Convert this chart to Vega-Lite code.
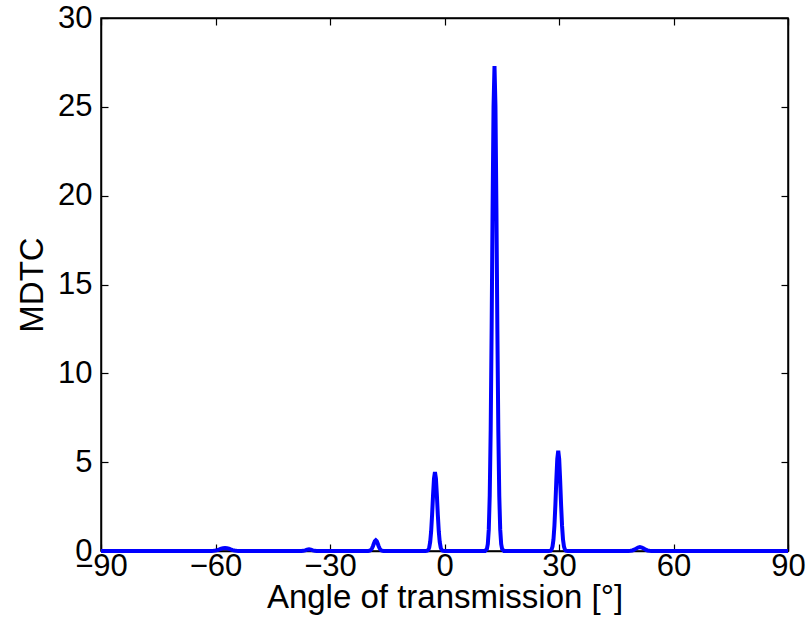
{
  "$schema": "https://vega.github.io/schema/vega-lite/v6.json",
  "width": 687,
  "height": 533,
  "autosize": "none",
  "padding": {"left": 101, "top": 18, "right": 23, "bottom": 83},
  "background": "white",
  "config": {
    "font": "Liberation Sans",
    "view": {"stroke": "black", "strokeWidth": 1.5},
    "axis": {
      "domainColor": "black",
      "domainWidth": 1.5,
      "tickColor": "black",
      "tickWidth": 1.2,
      "tickSize": -7,
      "grid": false,
      "labelFlush": false,
      "labelOverlap": false,
      "labelColor": "black",
      "labelFontSize": 31,
      "labelFont": "Liberation Sans",
      "titleColor": "black",
      "titleFontSize": 33,
      "titleFont": "Liberation Sans",
      "titleFontWeight": "normal"
    }
  },
  "data": {
    "values": [
      {"angle": -90, "mdtc": 0},
      {"angle": -62, "mdtc": 0},
      {"angle": -61.5, "mdtc": 0.0015},
      {"angle": -61, "mdtc": 0.005},
      {"angle": -60.5, "mdtc": 0.012},
      {"angle": -60, "mdtc": 0.027},
      {"angle": -59.5, "mdtc": 0.052},
      {"angle": -59, "mdtc": 0.087},
      {"angle": -58.5, "mdtc": 0.126},
      {"angle": -58, "mdtc": 0.158},
      {"angle": -57.5, "mdtc": 0.17},
      {"angle": -57, "mdtc": 0.158},
      {"angle": -56.5, "mdtc": 0.126},
      {"angle": -56, "mdtc": 0.087},
      {"angle": -55.5, "mdtc": 0.052},
      {"angle": -55, "mdtc": 0.027},
      {"angle": -54.5, "mdtc": 0.012},
      {"angle": -54, "mdtc": 0.005},
      {"angle": -53.5, "mdtc": 0.0015},
      {"angle": -53, "mdtc": 0},
      {"angle": -38, "mdtc": 0},
      {"angle": -37.5, "mdtc": 0.0017},
      {"angle": -37, "mdtc": 0.01},
      {"angle": -36.5, "mdtc": 0.036},
      {"angle": -36, "mdtc": 0.078},
      {"angle": -35.5, "mdtc": 0.1},
      {"angle": -35, "mdtc": 0.078},
      {"angle": -34.5, "mdtc": 0.036},
      {"angle": -34, "mdtc": 0.01},
      {"angle": -33.5, "mdtc": 0.0017},
      {"angle": -33, "mdtc": 0},
      {"angle": -20.5, "mdtc": 0},
      {"angle": -20, "mdtc": 0.002},
      {"angle": -19.75, "mdtc": 0.009},
      {"angle": -19.5, "mdtc": 0.026},
      {"angle": -19.25, "mdtc": 0.07},
      {"angle": -19, "mdtc": 0.15},
      {"angle": -18.75, "mdtc": 0.27},
      {"angle": -18.5, "mdtc": 0.42},
      {"angle": -18.25, "mdtc": 0.55},
      {"angle": -18, "mdtc": 0.6},
      {"angle": -17.75, "mdtc": 0.55},
      {"angle": -17.5, "mdtc": 0.42},
      {"angle": -17.25, "mdtc": 0.27},
      {"angle": -17, "mdtc": 0.15},
      {"angle": -16.75, "mdtc": 0.07},
      {"angle": -16.5, "mdtc": 0.026},
      {"angle": -16.25, "mdtc": 0.009},
      {"angle": -16, "mdtc": 0.002},
      {"angle": -15.5, "mdtc": 0},
      {"angle": -5, "mdtc": 0},
      {"angle": -4.5, "mdtc": 0.017},
      {"angle": -4.25, "mdtc": 0.063},
      {"angle": -4, "mdtc": 0.2},
      {"angle": -3.75, "mdtc": 0.51},
      {"angle": -3.5, "mdtc": 1.11},
      {"angle": -3.25, "mdtc": 2.04},
      {"angle": -3, "mdtc": 3.15},
      {"angle": -2.75, "mdtc": 4.08},
      {"angle": -2.5, "mdtc": 4.45},
      {"angle": -2.25, "mdtc": 4.08},
      {"angle": -2, "mdtc": 3.15},
      {"angle": -1.75, "mdtc": 2.04},
      {"angle": -1.5, "mdtc": 1.11},
      {"angle": -1.25, "mdtc": 0.51},
      {"angle": -1, "mdtc": 0.2},
      {"angle": -0.75, "mdtc": 0.063},
      {"angle": -0.5, "mdtc": 0.017},
      {"angle": 0, "mdtc": 0},
      {"angle": 10.6, "mdtc": 0},
      {"angle": 11.1, "mdtc": 0.11},
      {"angle": 11.35, "mdtc": 0.39},
      {"angle": 11.6, "mdtc": 1.2},
      {"angle": 11.85, "mdtc": 3.11},
      {"angle": 12.1, "mdtc": 6.8},
      {"angle": 12.35, "mdtc": 12.5},
      {"angle": 12.6, "mdtc": 19.3},
      {"angle": 12.85, "mdtc": 25.03},
      {"angle": 13.1, "mdtc": 27.3},
      {"angle": 13.35, "mdtc": 25.03},
      {"angle": 13.6, "mdtc": 19.3},
      {"angle": 13.85, "mdtc": 12.5},
      {"angle": 14.1, "mdtc": 6.8},
      {"angle": 14.35, "mdtc": 3.11},
      {"angle": 14.6, "mdtc": 1.2},
      {"angle": 14.85, "mdtc": 0.39},
      {"angle": 15.1, "mdtc": 0.11},
      {"angle": 15.6, "mdtc": 0},
      {"angle": 27.3, "mdtc": 0},
      {"angle": 27.8, "mdtc": 0.022},
      {"angle": 28.05, "mdtc": 0.08},
      {"angle": 28.3, "mdtc": 0.25},
      {"angle": 28.55, "mdtc": 0.64},
      {"angle": 28.8, "mdtc": 1.41},
      {"angle": 29.05, "mdtc": 2.59},
      {"angle": 29.3, "mdtc": 3.99},
      {"angle": 29.55, "mdtc": 5.18},
      {"angle": 29.8, "mdtc": 5.65},
      {"angle": 30.05, "mdtc": 5.18},
      {"angle": 30.3, "mdtc": 3.99},
      {"angle": 30.55, "mdtc": 2.59},
      {"angle": 30.8, "mdtc": 1.41},
      {"angle": 31.05, "mdtc": 0.64},
      {"angle": 31.3, "mdtc": 0.25},
      {"angle": 31.55, "mdtc": 0.08},
      {"angle": 31.8, "mdtc": 0.022},
      {"angle": 32.3, "mdtc": 0},
      {"angle": 47.7, "mdtc": 0},
      {"angle": 48.2, "mdtc": 0.0024},
      {"angle": 48.7, "mdtc": 0.0097},
      {"angle": 49.2, "mdtc": 0.03},
      {"angle": 49.7, "mdtc": 0.072},
      {"angle": 50.2, "mdtc": 0.134},
      {"angle": 50.7, "mdtc": 0.194},
      {"angle": 51.2, "mdtc": 0.22},
      {"angle": 51.7, "mdtc": 0.194},
      {"angle": 52.2, "mdtc": 0.134},
      {"angle": 52.7, "mdtc": 0.072},
      {"angle": 53.2, "mdtc": 0.03},
      {"angle": 53.7, "mdtc": 0.0097},
      {"angle": 54.2, "mdtc": 0.0024},
      {"angle": 54.7, "mdtc": 0},
      {"angle": 90, "mdtc": 0}
    ]
  },
  "layer": [
    {
      "mark": {"type": "line", "opacity": 0},
      "encoding": {
        "x": {"field": "angle", "type": "quantitative", "scale": {"domain": [-90, 90], "nice": false, "zero": false},
              "axis": {"orient": "top", "values": [-90, -60, -30, 0, 30, 60, 90], "labels": false, "title": null}},
        "y": {"field": "mdtc", "type": "quantitative", "scale": {"domain": [0, 30], "nice": false},
              "axis": {"orient": "right", "values": [0, 5, 10, 15, 20, 25, 30], "labels": false, "title": null}}
      }
    },
    {
      "mark": {"type": "line", "color": "#0000ff", "strokeWidth": 4, "clip": false},
      "encoding": {
        "x": {"field": "angle", "type": "quantitative", "scale": {"domain": [-90, 90], "nice": false, "zero": false},
              "axis": {"orient": "bottom", "values": [-90, -60, -30, 0, 30, 60, 90], "title": "Angle of transmission [°]", "labelPadding": 7, "titlePadding": 0}},
        "y": {"field": "mdtc", "type": "quantitative", "scale": {"domain": [0, 30], "nice": false},
              "axis": {"orient": "left", "values": [0, 5, 10, 15, 20, 25, 30], "title": "MDTC", "labelPadding": 16, "titlePadding": 8}}
      }
    }
  ],
  "resolve": {"axis": {"x": "independent", "y": "independent"}}
}
